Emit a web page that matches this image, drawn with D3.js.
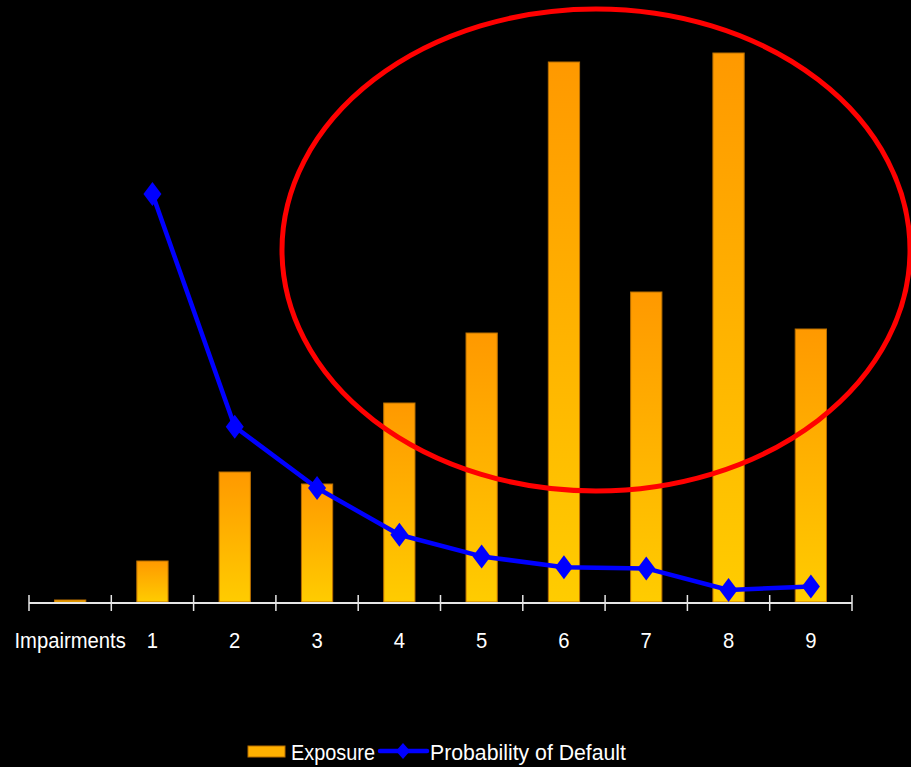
<!DOCTYPE html>
<html>
<head>
<meta charset="utf-8">
<script src="https://cdn.jsdelivr.net/npm/d3@7"></script>
<style>
  html, body { margin: 0; padding: 0; background: #000; }
  svg { display: block; }
  text { font-family: "Liberation Sans", Arial, sans-serif; fill: #fff; }
</style>
</head>
<body>
<svg id="chart" width="911" height="767"></svg>
<script>
// Categories along the horizontal axis
const categories = ["Impairments", "1", "2", "3", "4", "5", "6", "7", "8", "9"];
// Exposure per rating grade (bars)
const exposure = [2, 41, 130, 118, 199, 269, 540, 310, 549, 273];
// Probability of default per rating grade, % (line); none for impairments
const pdGrades = ["1", "2", "3", "4", "5", "6", "7", "8", "9"];
const pdValues = [17.0, 7.3, 4.75, 2.8, 1.9, 1.45, 1.4, 0.5, 0.65];
// Legend entries
const legendLabels = ["Exposure", "Probability of Default"];

const svg = d3.select("#chart");
const W = 911, H = 767;
svg.append("rect").attr("width", W).attr("height", H).attr("fill", "#000");

const x = d3.scaleBand().domain(categories).range([29, 852]).paddingInner(0.62).paddingOuter(0.31);
const yExp = d3.scaleLinear().domain([0, 600]).range([602, 2]);
const yPd = d3.scaleLinear().domain([0, 25]).range([602, 2]);

const defs = svg.append("defs");
const grad = defs.append("linearGradient").attr("id", "barGrad")
  .attr("x1", 0).attr("y1", 0).attr("x2", 0).attr("y2", 1);
grad.append("stop").attr("offset", "0%").attr("stop-color", "#FF9900");
grad.append("stop").attr("offset", "100%").attr("stop-color", "#FFCC00");

// Bars
svg.append("g").selectAll("rect").data(exposure).join("rect")
  .attr("x", (d, i) => x(categories[i]))
  .attr("y", d => yExp(d))
  .attr("width", x.bandwidth())
  .attr("height", d => yExp(0) - yExp(d))
  .attr("fill", "url(#barGrad)")
  .attr("stroke", "#B86E00")
  .attr("stroke-width", 1);

// Axis line and band-boundary ticks
const step = x.step();
const bounds = categories.map(c => x(c) - step * x.paddingInner() / 2);
bounds.push(x.range()[1]);
const axisG = svg.append("g");
axisG.append("line")
  .attr("x1", x.range()[0]).attr("x2", x.range()[1])
  .attr("y1", 603).attr("y2", 603)
  .attr("stroke", "#e6e6e6").attr("stroke-width", 2);
axisG.selectAll("line.tick").data(bounds).join("line")
  .attr("class", "tick")
  .attr("x1", d => d).attr("x2", d => d)
  .attr("y1", 595).attr("y2", 611)
  .attr("stroke", "#e6e6e6").attr("stroke-width", 1.5);

// Narrow the type: squeeze each label's glyphs horizontally
function condense(sel, factor) {
  sel.each(function () {
    const n = this.getComputedTextLength();
    d3.select(this).attr("textLength", n * factor).attr("lengthAdjust", "spacingAndGlyphs");
  });
}

// Category labels
const labelAxis = d3.axisBottom(x).tickSize(0).tickPadding(0);
const lab = svg.append("g").attr("transform", "translate(0,632)").call(labelAxis);
lab.select(".domain").remove();
lab.selectAll("text")
  .attr("fill", "#fff")
  .attr("dy", "0.71em")
  .style("font-size", "22px")
  .style("font-family", "\"Liberation Sans\", Arial, sans-serif")
  .call(condense, 0.92);

// Probability of default line
const line = d3.line()
  .x((d, i) => x(pdGrades[i]) + x.bandwidth() / 2)
  .y(d => yPd(d));
svg.append("path").datum(pdValues)
  .attr("d", line)
  .attr("fill", "none")
  .attr("stroke", "#0000FF")
  .attr("stroke-width", 4.5)
  .attr("stroke-linejoin", "round");

const diamond = (w, h) => `M0,${-h}L${w},0L0,${h}L${-w},0Z`;
svg.append("g").selectAll("path").data(pdValues).join("path")
  .attr("d", diamond(9, 12))
  .attr("transform", (d, i) => `translate(${x(pdGrades[i]) + x.bandwidth() / 2},${yPd(d)})`)
  .attr("fill", "#0000FF");

// Highlight ellipse around the larger exposures
svg.append("ellipse")
  .attr("cx", 596).attr("cy", 250)
  .attr("rx", 314).attr("ry", 241)
  .attr("fill", "none")
  .attr("stroke", "#FF0000")
  .attr("stroke-width", 5);

// Legend
const lg = svg.append("g");
lg.append("rect")
  .attr("x", 248).attr("y", 746).attr("width", 37).attr("height", 11)
  .attr("fill", "#FFB000").attr("stroke", "#B86E00").attr("stroke-width", 1);
lg.append("text").attr("x", 291).attr("y", 760)
  .style("font-size", "22px")
  .attr("textLength", 84).attr("lengthAdjust", "spacingAndGlyphs")
  .text(legendLabels[0]);
lg.append("line")
  .attr("x1", 380).attr("x2", 427).attr("y1", 751).attr("y2", 751)
  .attr("stroke", "#0000FF").attr("stroke-width", 4.5).attr("stroke-linecap", "round");
lg.append("path").attr("d", diamond(7, 8)).attr("transform", "translate(403,751)").attr("fill", "#0000FF");
lg.append("text").attr("x", 430).attr("y", 760)
  .style("font-size", "22px")
  .attr("textLength", 196).attr("lengthAdjust", "spacingAndGlyphs")
  .text(legendLabels[1]);
</script>
</body>
</html>
